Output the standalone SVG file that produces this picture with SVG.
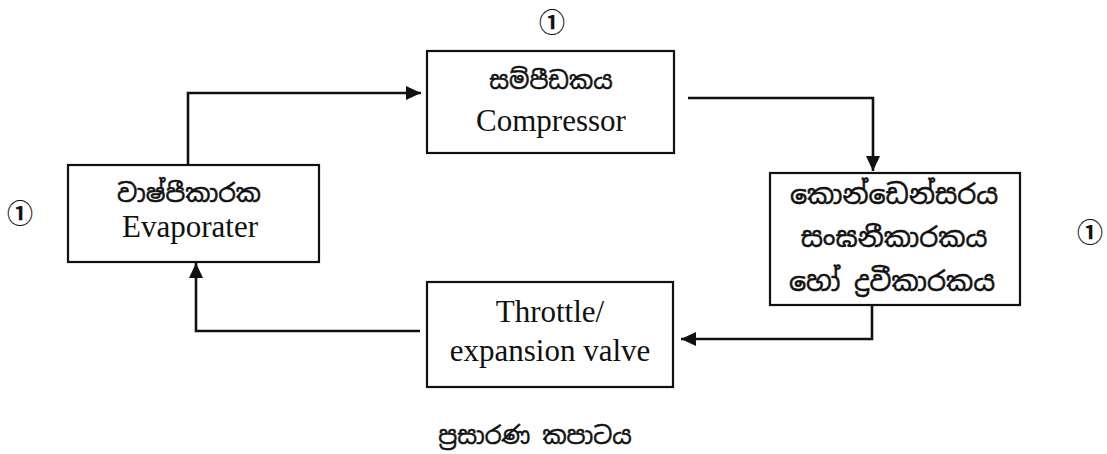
<svg xmlns="http://www.w3.org/2000/svg" width="1107" height="454" viewBox="0 0 1107 454">
<defs>
<style>
.box{fill:#fff;stroke:#111;stroke-width:2.2}
.con{fill:none;stroke:#111;stroke-width:2.6;stroke-linejoin:miter}
.en{font-family:"Liberation Serif","Times New Roman",serif;font-size:31px;fill:#111;text-anchor:middle}
.si{font-family:"Noto Sans Sinhala","Noto Serif Sinhala","Iskoola Pota","LKLUG","Noto Sans",sans-serif;font-size:24px;fill:#111;stroke:#111;stroke-width:0.5;text-anchor:middle}
.mk{font-family:"Noto Sans CJK JP","DejaVu Sans",sans-serif;font-size:26px;font-weight:bold;fill:#111;text-anchor:middle}
</style>
<marker id="ah" markerUnits="userSpaceOnUse" markerWidth="16" markerHeight="14" refX="15" refY="7" orient="auto">
<path d="M0,0 L15,7 L0,14 z" fill="#111"/>
</marker>
</defs>
<rect width="1107" height="454" fill="#fff"/>
<g id="connectors">
<path class="con" d="M188,165 V93 H421" marker-end="url(#ah)"/>
<path class="con" d="M688,98 H873 V171" marker-end="url(#ah)"/>
<path class="con" d="M872,305 V339 H681" marker-end="url(#ah)"/>
<path class="con" d="M420,331 H196 V263" marker-end="url(#ah)"/>
</g>
<g id="compressor">
<rect class="box" x="427" y="51" width="247" height="102"/>
<text class="si" x="551" y="89">සම්පීඩකය</text>
<text class="en" x="551" y="131">Compressor</text>
</g>
<g id="evaporator">
<rect class="box" x="68" y="165" width="251" height="97"/>
<text class="si" x="189" y="202" style="font-size:25px">වාෂ්පීකාරක</text>
<text class="en" x="190" y="237">Evaporater</text>
</g>
<g id="condenser">
<rect class="box" x="770" y="173" width="250" height="132"/>
<text class="si" x="894" y="204" style="font-size:27px">කොන්ඩෙන්සරය</text>
<text class="si" x="894" y="247" style="font-size:27px">සංඝනීකාරකය</text>
<text class="si" x="892" y="291" style="font-size:27px">හෝ ද්‍රවීකාරකය</text>
</g>
<g id="throttle">
<rect class="box" x="427" y="282" width="246" height="105"/>
<text class="en" x="550" y="322">Throttle/</text>
<text class="en" x="550" y="361">expansion valve</text>
</g>
<g id="labels">
<text class="si" x="535" y="444">ප්‍රසාරණ කපාටය</text>
<text class="mk" x="552" y="32">①</text>
<text class="mk" x="20" y="223">①</text>
<text class="mk" x="1090" y="242">①</text>
</g>
</svg>
